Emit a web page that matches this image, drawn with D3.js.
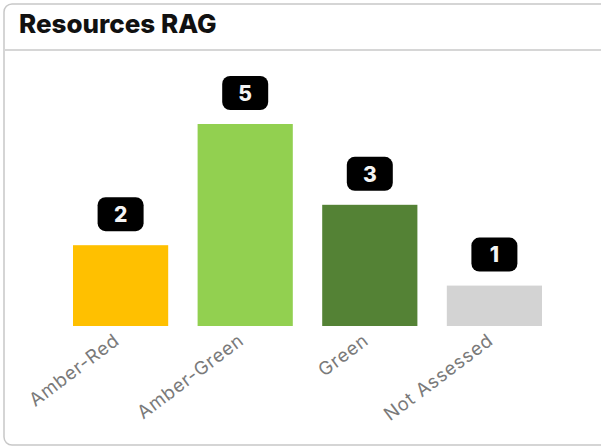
<!DOCTYPE html>
<html lang="en">
  <head>
    <meta charset="utf-8">
    <title>Resources RAG</title>
    <style>
      body {
        margin: 0;
        background: #fff;
        font-family: Inter, "Noto Sans", sans-serif;
      }
      svg { display: block; }
    </style>
    <script src="https://d3js.org/d3.v7.min.js"></script>
  </head>
  <body>
    <script>
    // chart data
    const categories = ["Amber-Red", "Amber-Green", "Green", "Not Assessed"]
    const counts = [2, 5, 3, 1]
    const title = "Resources RAG"

    const width = 601, height = 447
    const plot = { left: 73, right: 542, top: 124, bottom: 326 }

    const svg = d3.select("body")
      .append("svg")
      .attr("width", width)
      .attr("height", height)

    // card frame
    svg.append("rect")
      .attr("x", 4)
      .attr("y", 4)
      .attr("width", 620)
      .attr("height", 441)
      .attr("rx", 8)
      .attr("fill", "#fff")
      .attr("stroke", "#c8c8c8")
      .attr("stroke-width", 1.5)

    svg.append("line")
      .attr("x1", 4).attr("x2", width)
      .attr("y1", 50).attr("y2", 50)
      .attr("stroke", "#d6d6d6")
      .attr("stroke-width", 2)

    svg.append("text")
      .attr("x", 19)
      .attr("y", 33)
      .text(title)
      .style("font-size", "26px")
      .style("font-weight", "800")
      .attr("fill", "#111")

    const x = d3.scaleBand()
      .domain(categories)
      .range([plot.left, plot.right])
      .paddingInner(0.236)
      .paddingOuter(0)

    const y = d3.scaleLinear()
      .domain([0, d3.max(counts)])
      .range([plot.bottom, plot.top])

    const color = d3.scaleOrdinal()
      .domain(categories)
      .range(["#ffc000", "#92d050", "#548235", "#d3d3d3"])

    const data = categories.map((c, i) => ({ cat: c, value: counts[i] }))

    svg.append("g")
      .selectAll("rect")
      .data(data)
      .join("rect")
      .attr("x", d => x(d.cat))
      .attr("y", d => y(d.value))
      .attr("width", x.bandwidth())
      .attr("height", d => y(0) - y(d.value))
      .attr("fill", d => color(d.cat))

    // value badges
    const badge = svg.append("g")
      .selectAll("g")
      .data(data)
      .join("g")
      .attr("transform", d => `translate(${x(d.cat) + x.bandwidth() / 2},${y(d.value) - 31})`)

    badge.append("rect")
      .attr("x", -23)
      .attr("y", -17)
      .attr("width", 46)
      .attr("height", 34)
      .attr("rx", 8)
      .attr("fill", "#000")

    badge.append("text")
      .attr("text-anchor", "middle")
      .attr("dy", "0.37em")
      .attr("fill", "#f4f4f4")
      .style("font-size", "21px")
      .style("font-weight", "800")
      .text(d => d.value)

    // category labels
    svg.append("g")
      .selectAll("text")
      .data(categories)
      .join("text")
      .attr("transform", d => `translate(${x(d) + x.bandwidth() / 2},${plot.bottom + 17}) rotate(-37)`)
      .attr("text-anchor", "end")
      .attr("fill", "#7a7a7a")
      .style("font-size", "18.5px")
      .style("letter-spacing", "0.8px")
      .text(d => d)
    </script>
  </body>
</html>
